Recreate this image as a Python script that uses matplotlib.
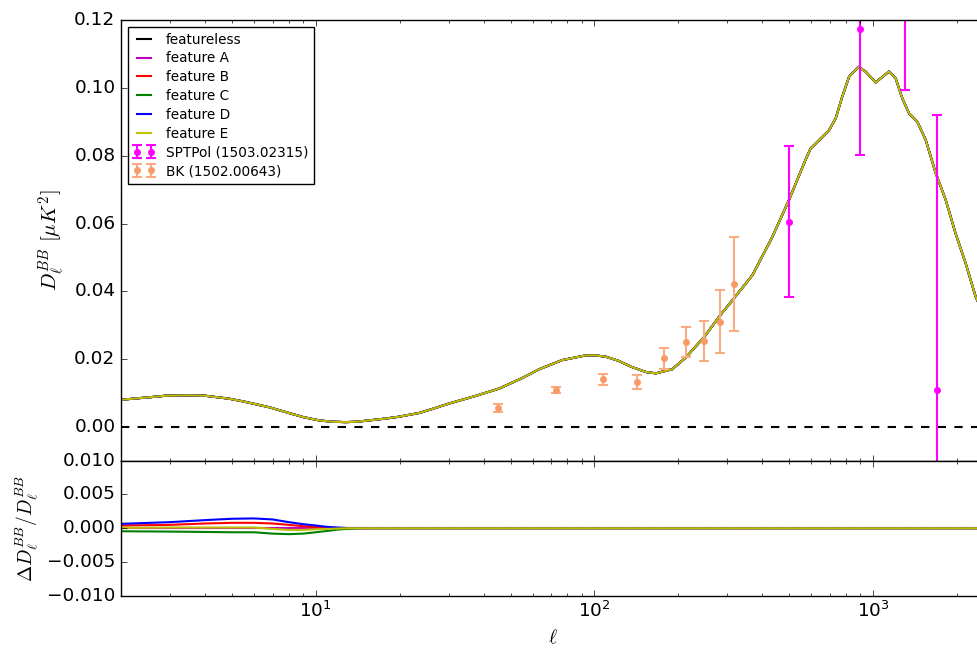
import numpy as np
import matplotlib
matplotlib.use('Agg')
import matplotlib.pyplot as plt
from matplotlib.ticker import FuncFormatter

# BB spectrum (all models overlap in the top panel)
ell = [2.0, 2.5, 2.9, 3.5, 4.0, 4.9, 5.5, 6.8, 8.0, 9.0, 10.3, 11.5, 12.8, 14.0,
       15.5, 18.0, 19.9, 23.5, 26.0, 30.1, 37.0, 45.5, 55.0, 63.3, 76.5, 93.0,
       101.0, 110.0, 122.0, 136.0, 153.0, 166.0, 190.0, 213.0, 248.0, 283.0,
       317.0, 369.0, 435.0, 499.0, 573.0, 597.0, 695.0, 734.0, 775.0, 820.0,
       885.0, 940.0, 1021.0, 1140.0, 1205.0, 1273.0, 1345.0, 1441.0, 1545.0,
       1678.0, 1822.0, 1977.0, 2148.0, 2334.0, 2500.0]
dl_bb = [0.0080, 0.0087, 0.0092, 0.0093, 0.0092, 0.0083, 0.0075, 0.0058, 0.0041,
         0.0029, 0.0019, 0.0015, 0.0014, 0.0015, 0.0019, 0.0025, 0.0030, 0.0041,
         0.0052, 0.0069, 0.0090, 0.0113, 0.0144, 0.0170, 0.0197, 0.0211, 0.0211,
         0.0207, 0.0195, 0.0177, 0.0162, 0.0158, 0.0170, 0.0205, 0.0266, 0.0330,
         0.0380, 0.0448, 0.0561, 0.0670, 0.0790, 0.0822, 0.0876, 0.0911, 0.0975,
         0.1034, 0.1063, 0.1049, 0.1017, 0.1049, 0.1029, 0.0970, 0.0926, 0.0901,
         0.0847, 0.0749, 0.0670, 0.0571, 0.0483, 0.0384, 0.0330]

# relative differences (bottom panel)
ell_res = [2, 3, 4, 5, 6, 7, 8, 9, 10, 11, 12, 13, 15, 20, 100, 1000, 2500]
res_a = [0.0] * 17
res_b = [0.0004, 0.0005, 0.0007, 0.0008, 0.0008, 0.0007, 0.0005, 0.0003, 0.00015,
         0.00007, 0.00002, 0.0, 0.0, 0.0, 0.0, 0.0, 0.0]
res_c = [-0.00045, -0.0005, -0.00055, -0.0006, -0.0006, -0.0008, -0.00088, -0.0008,
         -0.0006, -0.0004, -0.0002, -0.0001, 0.0, 0.0, 0.0, 0.0, 0.0]
res_d = [0.00065, 0.0009, 0.0012, 0.0014, 0.00145, 0.0013, 0.0009, 0.0006, 0.0004,
         0.0002, 0.0001, 0.00003, 0.0, 0.0, 0.0, 0.0, 0.0]
res_e = [0.00005, 0.0001, 0.0001, 0.0001, 0.0001, -0.0001, -0.00025, -0.00025,
         -0.00015, -0.0001, -0.00005, 0.0, 0.0, 0.0, 0.0, 0.0, 0.0]

# data points
ell_spt = [500, 900, 1300, 1700]
dl_spt = [0.0606, 0.1175, 0.135, 0.0108]
err_spt = [0.0223, 0.0372, 0.0356, 0.0812]

ell_bk = [45.0, 72.5, 107.5, 142.5, 177.5, 212.5, 247.5, 282.5, 317.5]
dl_bk = [0.0056, 0.0110, 0.0140, 0.0133, 0.0202, 0.0251, 0.0254, 0.0311, 0.0422]
err_bk = [0.0012, 0.0009, 0.0015, 0.0021, 0.0031, 0.0045, 0.0060, 0.0094, 0.0139]

names = ['featureless', 'feature A', 'feature B', 'feature C', 'feature D', 'feature E']
colors = ['k', 'm', 'r', 'g', 'b', 'y']
residuals = [[0.0] * 17, res_a, res_b, res_c, res_d, res_e]


def fmt(nd):
    return FuncFormatter(lambda x, pos: ('%.*f' % (nd, x)).replace('-', '\u2212'))


plt.style.use('classic')
plt.rcParams['figure.facecolor'] = 'white'
plt.rcParams['xtick.labelsize'] = 13.3
plt.rcParams['ytick.labelsize'] = 13.3

fig = plt.figure(figsize=(9.77, 6.5), dpi=100)
left = 121 / 977.
width = 863 / 977.
ax1 = fig.add_axes([left, 0.2912, width, 0.9685 - 0.2912])
ax2 = fig.add_axes([left, 0.0835, width, 0.2912 - 0.0835], sharex=ax1)

# top panel
for name, c in zip(names, colors):
    ax1.plot(ell, dl_bb, color=c, lw=1.5, label=name)
ax1.axhline(0, color='k', ls='--', lw=1.5)
ax1.errorbar(ell_spt, dl_spt, yerr=err_spt, fmt='o', color='#ff00ff', mec='#ff00ff',
             ms=4.5, elinewidth=1.5, capsize=3.5, capthick=1.5,
             label='SPTPol (1503.02315)')
ax1.errorbar(ell_bk, dl_bk, yerr=err_bk, fmt='o', color='#f99a66', mec='#f99a66',
             ecolor='#f9ab84', ms=4.5, elinewidth=1.5, capsize=3.5, capthick=1.5,
             label='BK (1502.00643)')
ax1.set_xscale('log')
ax1.set_xlim(2, 2500)
ax1.set_ylim(-0.01, 0.12)
ax1.set_yticks(np.arange(0, 0.121, 0.02))
ax1.yaxis.set_major_formatter(fmt(2))
ax1.set_ylabel(r'$D_\ell^{BB}\ [\mu K^2]$', fontsize=15)
plt.setp(ax1.get_xticklabels(), visible=False)
ax1.legend(loc='upper left', prop={'size': 9.8}, labelspacing=0.35,
           handlelength=1.6, numpoints=2)

# bottom panel
for res, c in zip(residuals, colors):
    if c == 'k':
        ax2.plot(ell_res, res, color=c, ls=':', lw=1.5)
    else:
        ax2.plot(ell_res, res, color=c, lw=1.5)
ax2.set_ylim(-0.01, 0.01)
ax2.set_yticks(np.arange(-0.01, 0.0101, 0.005))
ax2.yaxis.set_major_formatter(fmt(3))
ax2.set_ylabel(r'$\Delta D_\ell^{BB}/D_\ell^{BB}$', fontsize=14)
ax2.set_xlabel(r'$\ell$', fontsize=14)

fig.savefig('out.png', dpi=100, facecolor='white')
